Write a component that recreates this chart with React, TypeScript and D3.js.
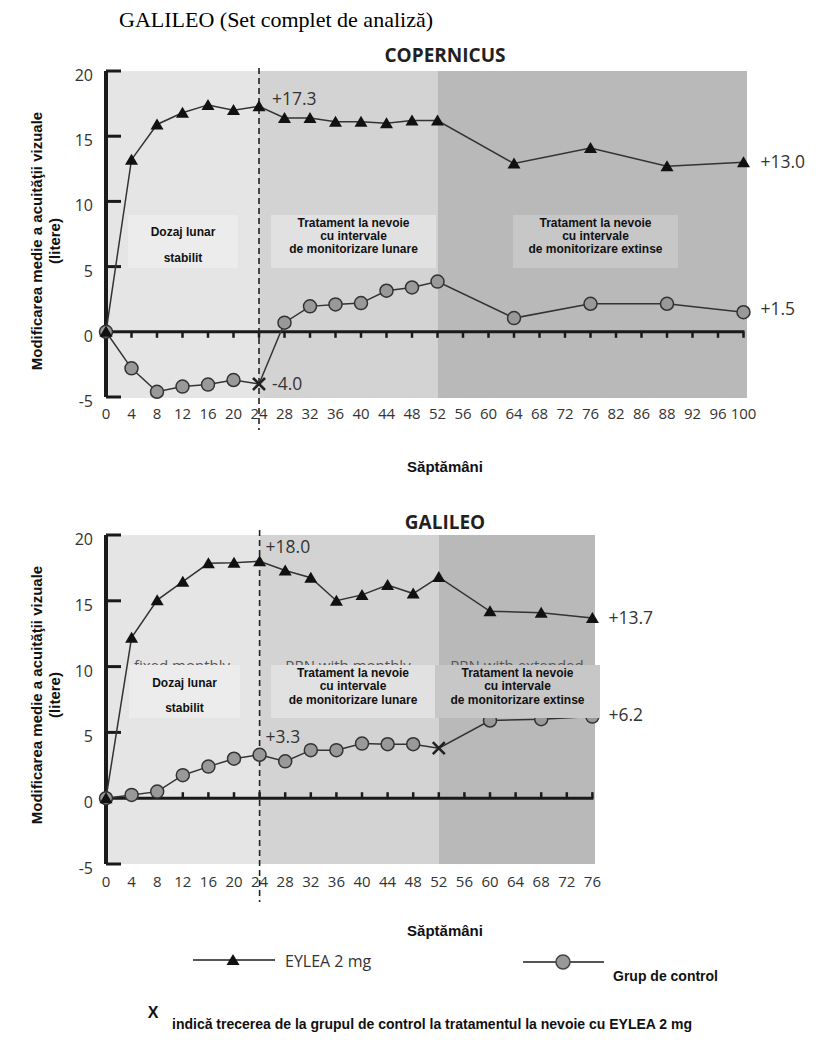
import React from "react";
import * as d3 from "d3";

// ---------- DATA ----------
const copWeeks = ["0","4","8","12","16","20","24","28","32","36","40","44","48","52","56","60","64","68","72","76","82","86","88","92","96","100"];
const copPointWeeks = ["0","4","8","12","16","20","24","28","32","36","40","44","48","52","64","76","88","100"];
const copEylea = [0,13.2,15.9,16.8,17.4,17.0,17.3,16.4,16.4,16.1,16.1,16.0,16.2,16.2,12.9,14.1,12.7,13.0];
const copControl = [0,-2.8,-4.6,-4.2,-4.05,-3.7,-4.0,0.7,1.95,2.1,2.2,3.15,3.4,3.85,1.05,2.15,2.15,1.5];
const copSwitchWeek = "24";

const galWeeks = ["0","4","8","12","16","20","24","28","32","36","40","44","48","52","56","60","64","68","72","76"];
const galPointWeeks = ["0","4","8","12","16","20","24","28","32","36","40","44","48","52","60","68","76"];
const galEylea = [0,12.2,15.05,16.45,17.85,17.9,18.0,17.3,16.75,15.0,15.45,16.2,15.55,16.8,14.2,14.1,13.7];
const galControl = [0,0.25,0.5,1.75,2.4,3.0,3.3,2.8,3.65,3.65,4.15,4.1,4.1,3.8,5.9,6.0,6.2];
const galSwitchWeek = "52";

const yTickValues = [-5, 0, 5, 10, 15, 20];
const phaseBreakWeeks = ["24", "52"];
const phaseLabels = [
  ["Dozaj lunar", "stabilit"],
  ["Tratament la nevoie", "cu intervale", "de monitorizare lunare"],
  ["Tratament la nevoie", "cu intervale", "de monitorizare extinse"],
];
const galRemnantLabels = ["fixed monthly", "PRN with monthly", "PRN with extended"];

const yTitle1 = "Modificarea medie a acuităţii vizuale";
const yTitle2 = "(litere)";
const xTitle = "Săptămâni";
const headerText = "GALILEO (Set complet de analiză)";
const legendEylea = "EYLEA 2 mg";
const legendControl = "Grup de control";
const footnote = "indică trecerea de la grupul de control la tratamentul la nevoie cu EYLEA 2 mg";

// ---------- STYLE ----------
const NUM_FONT = "'Open Sans', 'DejaVu Sans', sans-serif";
const ARIAL = "'Liberation Sans', Arial, sans-serif";
const SERIF = "'Liberation Serif', 'Times New Roman', serif";
const phaseFill = ["#e5e5e5", "#d3d3d3", "#b9b9b9"];
const boxFill = ["#ececec", "#e1e1e1", "#c7c7c7"];

type LabelSpec = { series: "e" | "c"; idx: number; dx: number; dy: number };

type PanelCfg = {
  id: string;
  title: string;
  titleY: number;
  weeks: string[];
  pointWeeks: string[];
  eylea: number[];
  control: number[];
  switchWeek: string;
  xRange: [number, number];
  bgRight: number;
  yRange: [number, number];
  bgTop: number;
  bgBottom: number;
  xLabelY: number;
  zeroTickDir: number;
  dashTop: number;
  dashBottom: number;
  xTitleY: number;
  yTitleCenter: number;
  boxTop: number;
  boxBottom: number;
  boxes: [number, number][];
  boxLineOffsets2: number[];
  boxLineOffsets3: number[];
  remnantX: number[] | null;
  labels: LabelSpec[];
};

const fmt = (v: number) => (v > 0 ? "+" : "") + v.toFixed(1);

function triPath(x: number, y: number, s = 1) {
  const hw = 6.5 * s, up = 6 * s, dn = 5 * s;
  return `M${x},${y - up}L${x + hw},${y + dn}L${x - hw},${y + dn}Z`;
}

function Panel({ c }: { c: PanelCfg }) {
  const x = d3.scalePoint<string>().domain(c.weeks).range(c.xRange);
  const y = d3.scaleLinear().domain([-5, 20]).range(c.yRange);
  const x0 = x("0")!;
  const xb1 = x(phaseBreakWeeks[0])!;
  const xb2 = x(phaseBreakWeeks[1])!;
  const line = d3
    .line<[string, number]>()
    .x((d) => x(d[0])!)
    .y((d) => y(d[1]));
  const eData: [string, number][] = c.pointWeeks.map((w, i) => [w, c.eylea[i]]);
  const cData: [string, number][] = c.pointWeeks.map((w, i) => [w, c.control[i]]);
  const y0 = y(0);
  const midX = 445;
  const clipId = "clip-" + c.id;

  return (
    <g>
      <defs>
        <clipPath id={clipId}>
          <rect x={0} y={0} width={829} height={c.boxTop} />
        </clipPath>
      </defs>
      <text x={midX} y={c.titleY} textAnchor="middle" fontFamily={NUM_FONT} fontWeight={700} fontSize={19} fill="#231f20">
        {c.title}
      </text>
      {/* phase backgrounds */}
      <rect x={x0} y={c.bgTop} width={xb1 - x0} height={c.bgBottom - c.bgTop} fill={phaseFill[0]} />
      <rect x={xb1} y={c.bgTop} width={xb2 - xb1} height={c.bgBottom - c.bgTop} fill={phaseFill[1]} />
      <rect x={xb2} y={c.bgTop} width={c.bgRight - xb2} height={c.bgBottom - c.bgTop} fill={phaseFill[2]} />

      {/* remnant english labels (mostly covered by the boxes) */}
      {c.remnantX && (
        <g clipPath={`url(#${clipId})`}>
          {c.remnantX.map((rx, i) => (
            <text key={"r" + i} x={rx} y={c.boxTop + 6} textAnchor="middle" fontFamily={NUM_FONT} fontSize={15} fill="#555">
              {galRemnantLabels[i]}
            </text>
          ))}
        </g>
      )}

      {/* zero line */}
      <line x1={x0} x2={x(c.weeks[c.weeks.length - 1])! + 1} y1={y0} y2={y0} stroke="#1a1a1a" strokeWidth={3} />
      {c.weeks.map((w) => (
        <line key={"zt" + w} x1={x(w)!} x2={x(w)!} y1={y0} y2={y0 + c.zeroTickDir * 6} stroke="#1a1a1a" strokeWidth={2.5} />
      ))}

      {/* y axis */}
      <line x1={x0} x2={x0} y1={y(20)} y2={y(-5)} stroke="#1a1a1a" strokeWidth={4} />
      {yTickValues
        .filter((v) => v !== 0)
        .map((v) => (
          <line key={"yt" + v} x1={x0} x2={x0 + 15} y1={y(v)} y2={y(v)} stroke="#1a1a1a" strokeWidth={3} />
        ))}
      {yTickValues.map((v) => (
        <text key={"yl" + v} x={93} y={y(v) + 4} textAnchor="end" dominantBaseline="central" fontFamily={NUM_FONT} fontSize={16} fill="#333">
          {v}
        </text>
      ))}

      {/* x labels */}
      {c.weeks.map((w) => (
        <text key={"xl" + w} x={x(w)!} y={c.xLabelY} textAnchor="middle" fontFamily={NUM_FONT} fontSize={15} fill="#333">
          {w}
        </text>
      ))}

      {/* dashed switch line */}
      <line x1={xb1} x2={xb1} y1={c.dashTop} y2={c.dashBottom} stroke="#222" strokeWidth={1.6} strokeDasharray="6,4" />

      {/* series lines */}
      <path d={line(cData) || ""} fill="none" stroke="#333" strokeWidth={1.5} />
      <path d={line(eData) || ""} fill="none" stroke="#333" strokeWidth={1.5} />

      {/* control markers */}
      {cData.map((d, i) =>
        d[0] === c.switchWeek ? (
          <g key={"cx" + i} stroke="#222" strokeWidth={2.6}>
            <line x1={x(d[0])! - 6} x2={x(d[0])! + 6} y1={y(d[1]) - 6} y2={y(d[1]) + 6} />
            <line x1={x(d[0])! - 6} x2={x(d[0])! + 6} y1={y(d[1]) + 6} y2={y(d[1]) - 6} />
          </g>
        ) : (
          <circle key={"cc" + i} cx={x(d[0])!} cy={y(d[1])} r={6.5} fill="#999" stroke="#333" strokeWidth={1.5} />
        )
      )}
      {/* eylea markers */}
      {eData.map((d, i) => (
        <path key={"et" + i} d={triPath(x(d[0])!, y(d[1]))} fill="#111" />
      ))}

      {/* value labels */}
      {c.labels.map((l, i) => {
        const d = l.series === "e" ? eData[l.idx] : cData[l.idx];
        return (
          <text key={"vl" + i} x={x(d[0])! + l.dx} y={y(d[1]) + l.dy} fontFamily={NUM_FONT} fontSize={17.5} fill="#333">
            {fmt(d[1])}
          </text>
        );
      })}

      {/* phase boxes */}
      {c.boxes.map((b, i) => {
        const lines = phaseLabels[i];
        const offs = lines.length === 2 ? c.boxLineOffsets2 : c.boxLineOffsets3;
        return (
          <g key={"b" + i}>
            <rect x={b[0]} y={c.boxTop} width={b[1] - b[0]} height={c.boxBottom - c.boxTop} fill={boxFill[i]} />
            {lines.map((t, j) => (
              <text key={j} x={(b[0] + b[1]) / 2} y={c.boxTop + offs[j]} textAnchor="middle" fontFamily={ARIAL} fontWeight={700} fontSize={12} fill="#111">
                {t}
              </text>
            ))}
          </g>
        );
      })}

      {/* axis titles */}
      <g transform={`translate(36,${c.yTitleCenter}) rotate(-90)`}>
        <text x={0} y={0} textAnchor="middle" dominantBaseline="central" fontFamily={ARIAL} fontWeight={700} fontSize={15} fill="#111">
          {yTitle1}
        </text>
      </g>
      <g transform={`translate(54,${c.yTitleCenter}) rotate(-90)`}>
        <text x={0} y={0} textAnchor="middle" dominantBaseline="central" fontFamily={ARIAL} fontWeight={700} fontSize={15} fill="#111">
          {yTitle2}
        </text>
      </g>
      <text x={midX} y={c.xTitleY} textAnchor="middle" fontFamily={ARIAL} fontWeight={700} fontSize={15} fill="#111">
        {xTitle}
      </text>
    </g>
  );
}

const copCfg: PanelCfg = {
  id: "cop",
  title: "COPERNICUS",
  titleY: 62,
  weeks: copWeeks,
  pointWeeks: copPointWeeks,
  eylea: copEylea,
  control: copControl,
  switchWeek: copSwitchWeek,
  xRange: [106, 743.5],
  bgRight: 747,
  yRange: [397, 71],
  bgTop: 71,
  bgBottom: 398,
  xLabelY: 419,
  zeroTickDir: 1,
  dashTop: 68,
  dashBottom: 430,
  xTitleY: 472,
  yTitleCenter: 241,
  boxTop: 215,
  boxBottom: 268,
  boxes: [[128, 238], [271, 436], [513, 678]],
  boxLineOffsets2: [21, 47],
  boxLineOffsets3: [12, 25, 38],
  remnantX: null,
  labels: [
    { series: "e", idx: 6, dx: 13, dy: -1 },
    { series: "c", idx: 6, dx: 13, dy: 6 },
    { series: "e", idx: 17, dx: 17, dy: 6 },
    { series: "c", idx: 17, dx: 17, dy: 3 },
  ],
};

const galCfg: PanelCfg = {
  id: "gal",
  title: "GALILEO",
  titleY: 529,
  weeks: galWeeks,
  pointWeeks: galPointWeeks,
  eylea: galEylea,
  control: galControl,
  switchWeek: galSwitchWeek,
  xRange: [106, 592.4],
  bgRight: 595,
  yRange: [864, 535],
  bgTop: 535,
  bgBottom: 864,
  xLabelY: 887,
  zeroTickDir: -1,
  dashTop: 530,
  dashBottom: 902,
  xTitleY: 936,
  yTitleCenter: 695,
  boxTop: 665,
  boxBottom: 718,
  boxes: [[129, 240], [271, 435], [435, 600]],
  boxLineOffsets2: [22, 47],
  boxLineOffsets3: [12, 25, 39],
  remnantX: [182, 348, 517],
  labels: [
    { series: "e", idx: 6, dx: 6, dy: -8 },
    { series: "c", idx: 6, dx: 6, dy: -12 },
    { series: "e", idx: 16, dx: 16, dy: 6 },
    { series: "c", idx: 16, dx: 16, dy: 4 },
  ],
};

export default function App() {
  return (
    <div style={{ position: "absolute", left: 0, top: 0 }}>
      <svg width={829} height={1040} viewBox="0 0 829 1040" style={{ display: "block", background: "#fff" }}>
        <text x={119} y={27} fontFamily={SERIF} fontSize={22} fill="#000">
          {headerText}
        </text>
        <Panel c={copCfg} />
        <Panel c={galCfg} />

        {/* legend */}
        <line x1={193} x2={275} y1={960} y2={960} stroke="#555" strokeWidth={2} />
        <path d={triPath(233, 960)} fill="#111" />
        <text x={285} y={967} fontFamily={NUM_FONT} fontSize={16} fill="#333">
          {legendEylea}
        </text>
        <line x1={523} x2={604} y1={962} y2={962} stroke="#555" strokeWidth={2} />
        <circle cx={563} cy={962} r={7} fill="#999" stroke="#444" strokeWidth={1.5} />
        <text x={613} y={981} fontFamily={ARIAL} fontWeight={700} fontSize={14} fill="#111">
          {legendControl}
        </text>

        <text x={153} y={1018} textAnchor="middle" fontFamily={ARIAL} fontWeight={700} fontSize={16} fill="#111">
          X
        </text>
        <text x={172} y={1029} fontFamily={ARIAL} fontWeight={700} fontSize={14} fill="#111">
          {footnote}
        </text>
      </svg>
    </div>
  );
}
